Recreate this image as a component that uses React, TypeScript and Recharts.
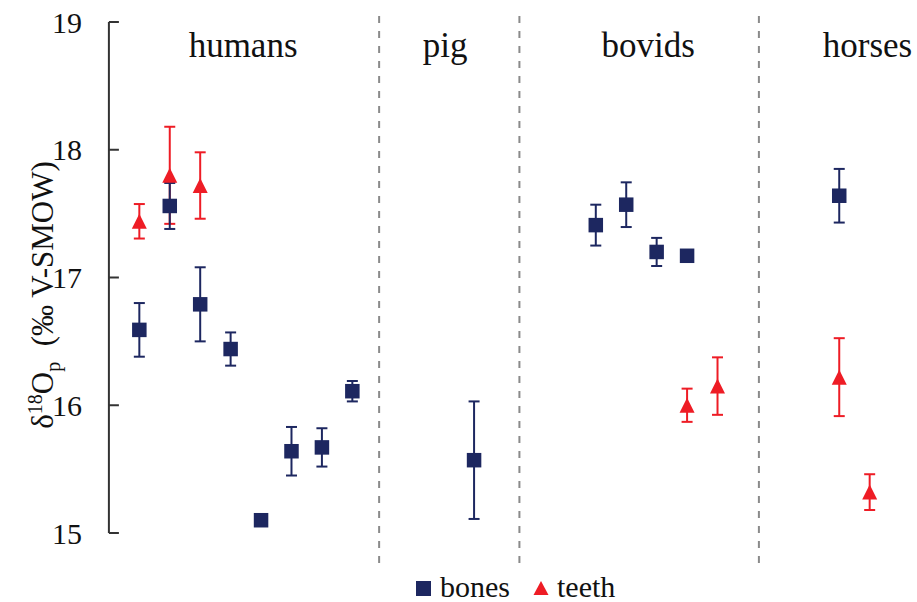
import React from 'react';
import { ScatterChart, Scatter, XAxis, YAxis, ErrorBar, ReferenceLine, ReferenceDot } from 'recharts';

// bones (squares)
const bonesX = [1, 2, 3, 4, 5, 6, 7, 8, 12, 16, 17, 18, 19, 24];
const bonesY = [16.59, 17.56, 16.79, 16.44, 15.1, 15.64, 15.67, 16.11, 15.57, 17.41, 17.57, 17.2, 17.17, 17.64];
const bonesErr = [0.21, 0.18, 0.29, 0.13, 0.02, 0.19, 0.15, 0.08, 0.46, 0.16, 0.175, 0.11, 0.02, 0.21];

// teeth (triangles)
const teethX = [1, 2, 3, 19, 20, 24, 25];
const teethY = [17.44, 17.8, 17.72, 16.0, 16.15, 16.22, 15.32];
const teethErr = [0.135, 0.38, 0.26, 0.13, 0.225, 0.305, 0.14];

const groupNames = ['humans', 'pig', 'bovids', 'horses'];
const groupCenters = [4.41, 11.05, 17.72, 24.93];
const dividers = [8.88, 13.49, 21.36];
const yTicks = [15, 16, 17, 18, 19];

const NAVY = '#1d2760';
const RED = '#ee1c25';
const FONT = 'Liberation Serif, DejaVu Serif, serif';

const bones = bonesX.map((x, i) => ({ x, y: bonesY[i], err: bonesErr[i] }));
const teeth = teethX.map((x, i) => ({ x, y: teethY[i], err: teethErr[i] }));

const SquareShape = (props: any) => {
    const { cx, cy } = props;
    return <rect x={cx - 7.25} y={cy - 7.25} width={14.5} height={14.5} fill={NAVY} />;
};

const TriangleShape = (props: any) => {
    const { cx, cy } = props;
    return <polygon points={`${cx},${cy - 7.5} ${cx + 7.5},${cy + 7.5} ${cx - 7.5},${cy + 7.5}`} fill={RED} />;
};

export default function App() {
    return (
        <div style={{ position: 'absolute', left: 0, top: 0, width: 917, height: 602, background: '#fff', fontFamily: FONT }}>
            <ScatterChart width={917} height={602} margin={{ top: 22, right: 16.9, bottom: 69, left: 8.9 }} style={{ fontFamily: FONT }}>
                <XAxis type="number" dataKey="x" domain={[0, 26]} hide />
                <YAxis
                    type="number"
                    dataKey="y"
                    domain={[15, 19]}
                    ticks={yTicks}
                    width={100}
                    tickSize={-10}
                    tickMargin={37}
                    axisLine={{ stroke: '#333', strokeWidth: 2 }}
                    tickLine={{ stroke: '#333', strokeWidth: 2 }}
                    tick={{ fill: '#111', fontSize: 30, style: { fontFamily: FONT } }}
                />
                {dividers.map((d) => (
                    <ReferenceLine
                        key={d}
                        segment={[{ x: d, y: 14.765 }, { x: d, y: 19.08 }]}
                        ifOverflow="visible"
                        stroke="#8a8a8a"
                        strokeWidth={2}
                        strokeDasharray="7 8"
                    />
                ))}
                {groupNames.map((name, i) => (
                    <ReferenceDot
                        key={name}
                        x={groupCenters[i]}
                        y={18.825}
                        r={0}
                        stroke="none"
                        fill="none"
                        label={{ value: name, position: 'center', fontSize: 35, style: { fontFamily: FONT }, fill: '#111' }}
                    />
                ))}
                <Scatter data={teeth} shape={<TriangleShape />} isAnimationActive={false}>
                    <ErrorBar dataKey="err" direction="y" width={5.5} stroke={RED} strokeWidth={2} />
                </Scatter>
                <Scatter data={bones} shape={<SquareShape />} isAnimationActive={false}>
                    <ErrorBar dataKey="err" direction="y" width={5.5} stroke={NAVY} strokeWidth={2} />
                </Scatter>
            </ScatterChart>
            <svg width={917} height={602} style={{ position: 'absolute', left: 0, top: 0, pointerEvents: 'none', fontFamily: FONT }}>
                <text
                    transform="rotate(-90, 53, 295)"
                    x={53}
                    y={295}
                    textAnchor="middle"
                    fontSize={31}
                    fill="#111"
                >
                    δ<tspan fontSize={20} dy={-11}>18</tspan>
                    <tspan dy={11}>O</tspan>
                    <tspan fontSize={20} dy={7}>p</tspan>
                    <tspan dy={-7}>{'\u00a0\u00a0(‰ V-SMOW)'}</tspan>
                </text>
                <rect x={416} y={581} width={15} height={15} fill={NAVY} />
                <text x={440} y={597} fontSize={30} fill="#111">bones</text>
                <polygon points="541,581 548.5,595 533.5,595" fill={RED} />
                <text x={557} y={597} fontSize={30} fill="#111">teeth</text>
            </svg>
        </div>
    );
}
